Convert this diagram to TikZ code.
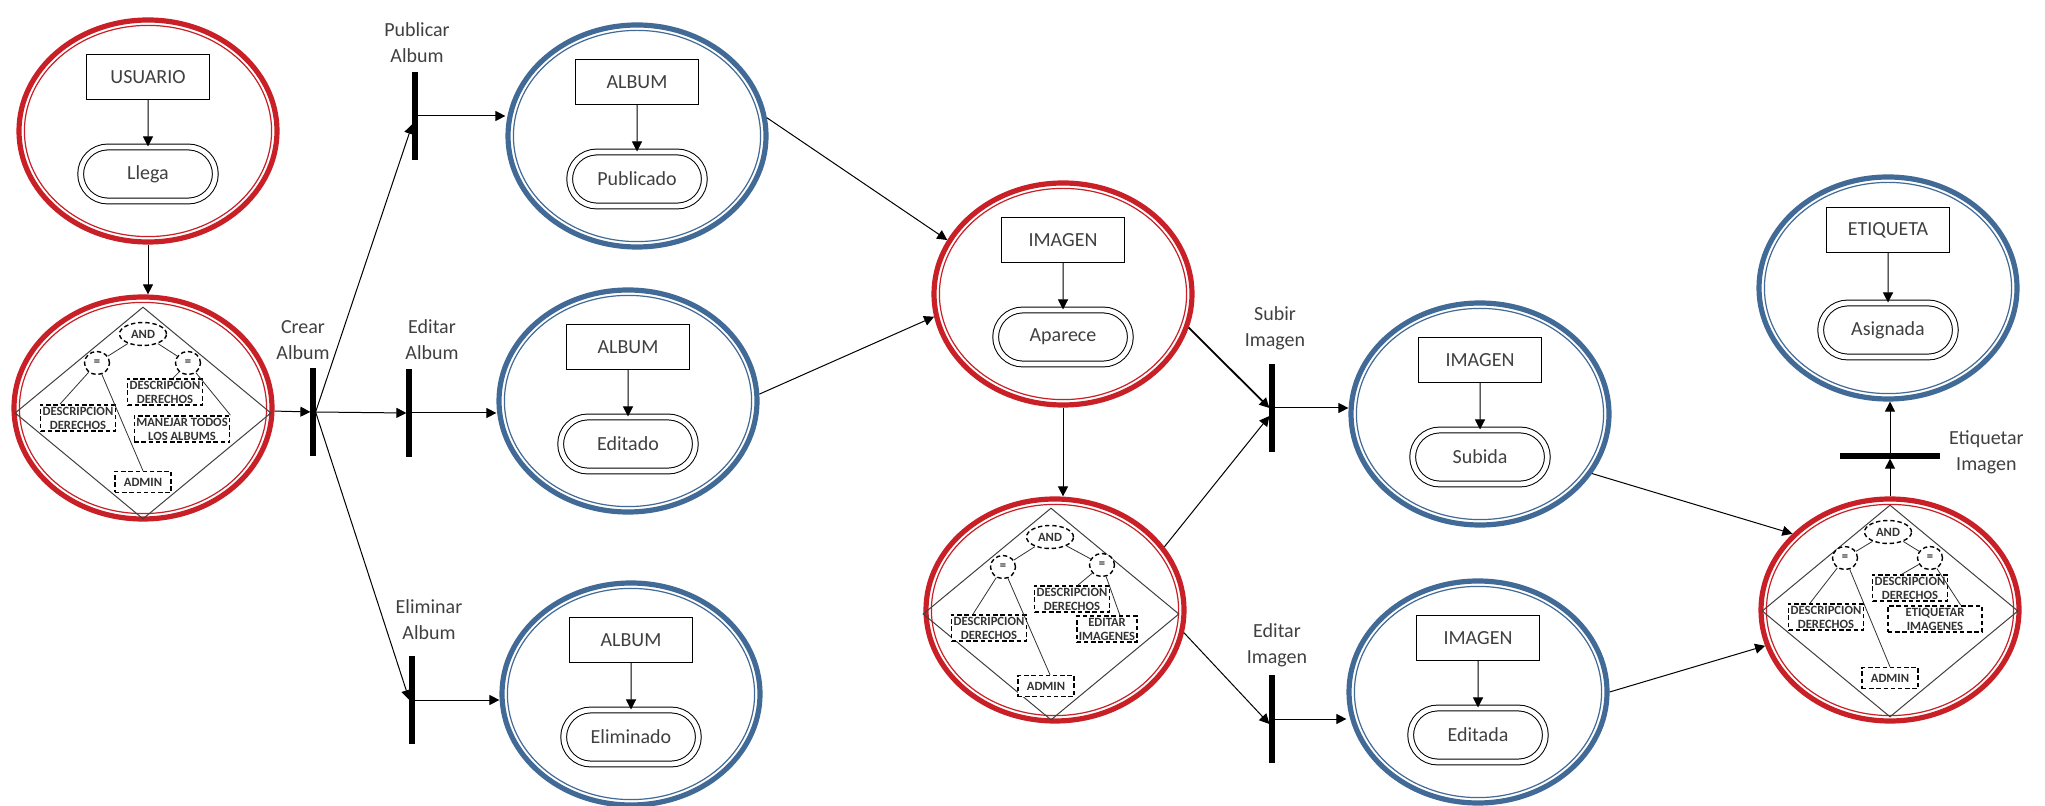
\documentclass[tikz,border=0pt]{standalone}
\usepackage{fontspec}
\setmainfont{Carlito}
\usetikzlibrary{shapes.geometric, shapes.misc, positioning, arrows.meta}

\definecolor{rojo}{RGB}{200,32,38}
\definecolor{azul}{RGB}{66,106,150}
\definecolor{texto}{RGB}{64,64,64}

\tikzset{
  estado/.style = {ellipse, draw=#1, line width=2.6pt, fill=white,
    minimum width=129pt, minimum height=111pt, inner sep=0},
  caja/.style = {draw, line width=0.5pt, minimum width=61.5pt, minimum height=22.5pt,
    text=texto, font=\fontsize{10}{12}\selectfont},
  situacion/.style = {rounded rectangle, draw, line width=0.5pt, double, double distance=2.4pt,
    minimum width=74pt, minimum height=27pt, text=texto, font=\fontsize{10}{12}\selectfont},
  barra/.style = {fill=black, minimum width=2.6pt, minimum height=44pt, inner sep=0, outer sep=0},
  barrah/.style = {fill=black, minimum width=50pt, minimum height=2.6pt, inner sep=0, outer sep=0},
  rotulo/.style = {align=center, text=texto, font=\fontsize{10}{13}\selectfont},
  rombo/.style = {diamond, draw=black!75, line width=0.5pt, minimum width=128pt,
    minimum height=106pt, inner sep=0},
  cond/.style = {draw, dash pattern=on 2.2pt off 1.4pt, line width=0.7pt, fill=white,
    align=center, font=\fontsize{6.3}{7}\selectfont\bfseries, inner sep=1pt, text=black!80},
  oper/.style = {cond, ellipse, minimum height=11.5pt, inner sep=0},
  flecha/.style = {-{Triangle[length=5pt,width=5pt]}, line width=0.5pt},
  linea/.style = {line width=0.4pt, black!80}
}

\begin{document}
\begin{tikzpicture}[x=0.5pt, y=-0.5pt]
\useasboundingbox (0,0) rectangle (2045,806);

% estados
\node[estado=rojo] (e1) at (148,131) {};
\node[estado=rojo] (e2) at (143,408) {};
\node[estado=azul] (e3) at (637,136) {};
\node[estado=azul] (e4) at (628,401) {};
\node[estado=azul] (e5) at (631,694) {};
\node[estado=rojo] (e6) at (1063,294) {};
\node[estado=rojo] (e7) at (1055,610) {};
\node[estado=azul] (e8) at (1480,414) {};
\node[estado=azul] (e9) at (1478,692) {};
\node[estado=rojo] (e10) at (1890,610) {};
\node[estado=azul] (e11) at (1888,288) {};

\foreach \n/\c in {e1/rojo, e2/rojo, e3/azul, e4/azul, e5/azul, e6/rojo,
                   e7/rojo, e8/azul, e9/azul, e10/rojo, e11/azul}
  \draw[\c, line width=0.6pt] (\n.center) ellipse [x radius=61.8pt, y radius=52.8pt];

% objetos
\node[caja] (usuario) at ([yshift=27pt]e1.center) {USUARIO};
\node[situacion] (llega) at ([yshift=-21.5pt]e1.center) {Llega};
\node[caja] (album1) at ([yshift=27pt]e3.center) {ALBUM};
\node[situacion] (publicado) at ([yshift=-21.5pt]e3.center) {Publicado};
\node[caja] (album2) at ([yshift=27pt]e4.center) {ALBUM};
\node[situacion] (editado) at ([yshift=-21.5pt]e4.center) {Editado};
\node[caja] (album3) at ([yshift=27pt]e5.center) {ALBUM};
\node[situacion] (eliminado) at ([yshift=-21.5pt]e5.center) {Eliminado};
\node[caja] (imagen1) at ([yshift=27pt]e6.center) {IMAGEN};
\node[situacion] (aparece) at ([yshift=-21.5pt]e6.center) {Aparece};
\node[caja] (imagen2) at ([yshift=27pt]e8.center) {IMAGEN};
\node[situacion] (subida) at ([yshift=-21.5pt]e8.center) {Subida};
\node[caja] (imagen3) at ([yshift=27pt]e9.center) {IMAGEN};
\node[situacion] (editada) at ([yshift=-21.5pt]e9.center) {Editada};
\node[caja] (etiqueta) at ([yshift=29pt]e11.center) {ETIQUETA};
\node[situacion] (asignada) at ([yshift=-21pt]e11.center) {Asignada};

\draw[flecha] (usuario) -- (llega);
\draw[flecha] (album1) -- (publicado);
\draw[flecha] (album2) -- (editado);
\draw[flecha] (album3) -- (eliminado);
\draw[flecha] (imagen1) -- (aparece);
\draw[flecha] (imagen2) -- (subida);
\draw[flecha] (imagen3) -- (editada);
\draw[flecha] (etiqueta) -- (asignada);

% condiciones: crear album
\node[rombo] (r1) at (143,413) {};
\node[oper, minimum width=23.5pt] (and1) at (143,334) {AND};
\node[oper, minimum width=12.5pt] (eql1) at (97,363) {=};
\node[oper, minimum width=12.5pt] (eqr1) at (188,363) {=};
\node[cond] (descr1) at (165,392) {DESCRIPCION\\DERECHOS};
\node[cond] (descl1) at (78,418) {DESCRIPCION\\DERECHOS};
\node[cond] (manejar) at (182,429) {MANEJAR TODOS\\LOS ALBUMS};
\node[cond, minimum width=28pt, minimum height=10.5pt] (admin1) at (143,482) {ADMIN};
\draw[linea] (and1) -- (eql1);
\draw[linea] (and1) -- (eqr1);
\draw[linea] (eql1) -- ([xshift=-9pt]descl1.north);
\draw[linea] (eql1) -- (admin1.north);
\draw[linea] (eqr1) -- ([xshift=4pt]descr1.north);
\draw[linea] (eqr1) -- (manejar.north east);

% condiciones: subir / editar imagen
\node[rombo] (r2) at (1051,614) {};
\node[oper, minimum width=23.5pt] (and2) at (1050,537) {AND};
\node[oper, minimum width=12.5pt] (eql2) at (1003,567) {=};
\node[oper, minimum width=12.5pt] (eqr2) at (1102,565) {=};
\node[cond] (descr2) at (1072,599) {DESCRIPCION\\DERECHOS};
\node[cond] (descl2) at (989,628) {DESCRIPCION\\DERECHOS};
\node[cond] (editarimg) at (1107,629) {EDITAR\\IMAGENES};
\node[cond, minimum width=28pt, minimum height=10.5pt] (admin2) at (1046,686) {ADMIN};
\draw[linea] (and2) -- (eql2);
\draw[linea] (and2) -- (eqr2);
\draw[linea] (eql2) -- ([xshift=-8pt]descl2.north);
\draw[linea] (eql2) -- ([xshift=2pt]admin2.north);
\draw[linea] (eqr2) -- ([xshift=3pt]descr2.north);
\draw[linea] (eqr2) -- ([xshift=-9pt]editarimg.north east);

% condiciones: etiquetar imagen
\node[rombo] (r3) at (1890,611) {};
\node[oper, minimum width=23.5pt] (and3) at (1888,532) {AND};
\node[oper, minimum width=12.5pt] (eql3) at (1845,558) {=};
\node[oper, minimum width=12.5pt] (eqr3) at (1930,558) {=};
\node[cond] (descr3) at (1910,588) {DESCRIPCION\\DERECHOS};
\node[cond] (descl3) at (1826,617) {DESCRIPCION\\DERECHOS};
\node[cond, minimum width=47pt] (etiquetarimg) at (1935,619) {ETIQUETAR\\IMAGENES};
\node[cond, minimum width=28pt, minimum height=10.5pt] (admin3) at (1890,678) {ADMIN};
\draw[linea] (and3) -- (eql3);
\draw[linea] (and3) -- (eqr3);
\draw[linea] (eql3) -- ([xshift=-8pt]descl3.north);
\draw[linea] (eql3) -- (admin3.north);
\draw[linea] (eqr3) -- ([xshift=-4pt]descr3.north);
\draw[linea] (eqr3) -- ([xshift=-11pt]etiquetarimg.north east);

% transiciones
\node[barra] (crear) at (313,412) {};
\node[barra] (publicar) at (415,116) {};
\node[barra] (editara) at (409,413) {};
\node[barra] (eliminar) at (412,700) {};
\node[barra] (subir) at (1272,408) {};
\node[barra] (editari) at (1272,719) {};
\node[barrah] (etiquetar) at (1890,456) {};

\node[rotulo] (lcrear) at (303,340) {Crear\\Album};
\node[rotulo] (lpublicar) at (417,43) {Publicar\\Album};
\node[rotulo] (leditara) at (432,340) {Editar\\Album};
\node[rotulo] (leliminar) at (429,620) {Eliminar\\Album};
\node[rotulo] (lsubir) at (1275,328) {Subir\\Imagen};
\node[rotulo] (leditari) at (1277,645) {Editar\\Imagen};
\node[rotulo, right=1pt of etiquetar, yshift=2pt] (letiquetar) {Etiquetar\\Imagen};

% flujo
\draw[flecha] (e1.south) -- (e1.south |- e2.north);
\draw[flecha] (e2) -- (crear);
\draw[flecha] (crear.east) -- ([yshift=-4pt]publicar.west);
\draw[flecha] (crear.east) -- (editara.west);
\draw[flecha] (crear.east) -- (eliminar.west);
\draw[flecha] (publicar.east) -- (publicar.east -| e3.west);
\draw[flecha] (editara.east) -- (editara.east -| e4.west);
\draw[flecha] (eliminar.east) -- (eliminar.east -| e5.west);
\draw[flecha] (e3.8) -- (e6.155);
\draw[flecha] (e4.3) -- (e6.190);
\draw[flecha] (e6.south) -- (e6.south |- e7.north);
\draw[flecha, line width=0.9pt] (e6.-15) -- (subir.west);
\draw[flecha] (e7.30) -- ([yshift=-4pt]subir.west);
\draw[flecha] (e7.-10) -- ([yshift=-2.5pt]editari.west);
\draw[flecha] (subir.east) -- (subir.east -| e8.west);
\draw[flecha] (editari.east) -- (editari.east -| e9.west);
\draw[flecha] (e8.-28) -- (e10.142);
\draw[flecha] (e9.0) -- (e10.196);
\draw[flecha] (e10.north) -- (etiquetar.south);
\draw[flecha] (etiquetar.north) -- (etiquetar.north |- e11.south);
\end{tikzpicture}
\end{document}
